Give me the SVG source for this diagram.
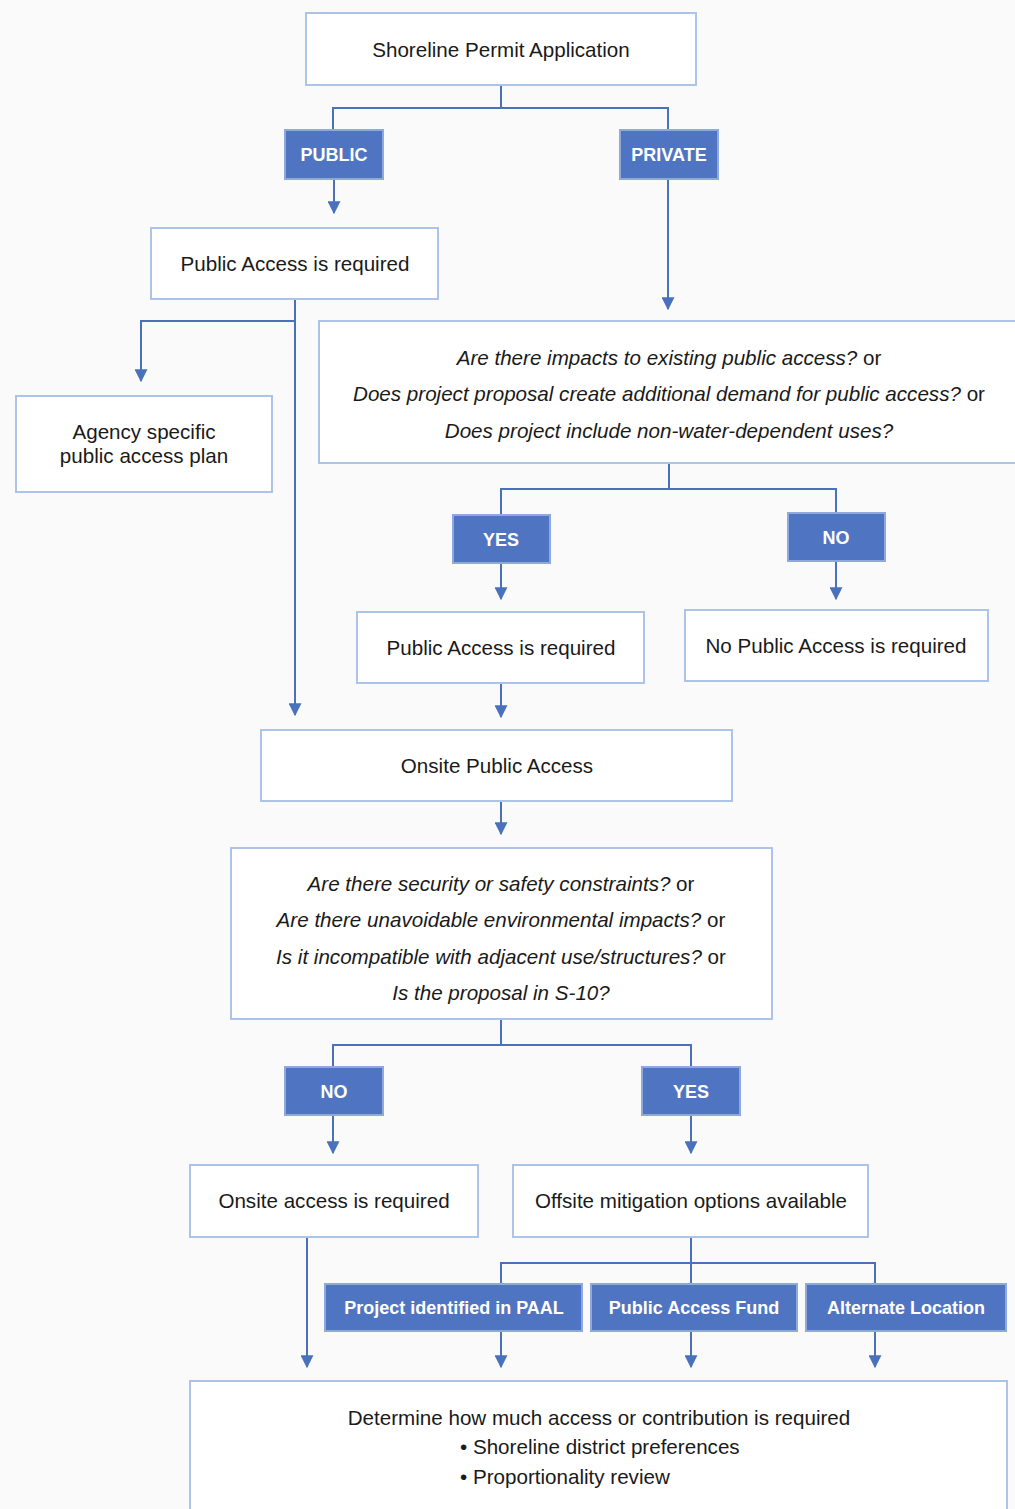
<svg xmlns="http://www.w3.org/2000/svg" width="1015" height="1509" viewBox="0 0 1015 1509">
<defs>
<marker id="ah" viewBox="0 0 10 10" refX="9" refY="5" markerWidth="13" markerHeight="13" markerUnits="userSpaceOnUse" orient="auto"><path d="M0,0 L10,5 L0,10 z" fill="#4a72bc"/></marker>
<style>
.box{fill:#ffffff;stroke:#aec3e8;stroke-width:2}
.lbl{fill:#4f75c2;stroke:#8fa9dc;stroke-width:2}
.t{font-family:"Liberation Sans",Arial,sans-serif;font-size:20.6px;fill:#1a1a1a;text-anchor:middle}
.s{text-anchor:start}
.i{font-style:italic}
.w{font-family:"Liberation Sans",Arial,sans-serif;font-size:18px;font-weight:bold;fill:#ffffff;text-anchor:middle}
.c{fill:none;stroke:#4a72bc;stroke-width:2}
</style>
</defs>
<rect width="1015" height="1509" fill="#fafafa"/>
<g id="connectors">
<path class="c" d="M501,85 V108 M333,130 V108 H668 V130"/>
<path class="c" d="M334,179 V213" marker-end="url(#ah)"/>
<path class="c" d="M668,179 V309" marker-end="url(#ah)"/>
<path class="c" d="M295,299 V715" marker-end="url(#ah)"/>
<path class="c" d="M295,321 H141 V381" marker-end="url(#ah)"/>
<path class="c" d="M669,463 V489 M501,515 V489 H836 V513"/>
<path class="c" d="M501,563 V599" marker-end="url(#ah)"/>
<path class="c" d="M836,561 V599" marker-end="url(#ah)"/>
<path class="c" d="M501,683 V717" marker-end="url(#ah)"/>
<path class="c" d="M501,801 V834" marker-end="url(#ah)"/>
<path class="c" d="M501,1019 V1045 M333,1067 V1045 H691 V1067"/>
<path class="c" d="M333,1115 V1153" marker-end="url(#ah)"/>
<path class="c" d="M691,1115 V1153" marker-end="url(#ah)"/>
<path class="c" d="M307,1237 V1367" marker-end="url(#ah)"/>
<path class="c" d="M691,1237 V1284 M501,1284 V1263 H875 V1284"/>
<path class="c" d="M501,1331 V1367" marker-end="url(#ah)"/>
<path class="c" d="M691,1331 V1367" marker-end="url(#ah)"/>
<path class="c" d="M875,1331 V1367" marker-end="url(#ah)"/>
</g>
<g id="n-app"><rect class="box" x="306" y="13" width="390" height="72"/><text class="t" x="501" y="57">Shoreline Permit Application</text></g>
<g id="n-public"><rect class="lbl" x="285" y="130" width="98" height="49"/><text class="w" x="334" y="161">PUBLIC</text></g>
<g id="n-private"><rect class="lbl" x="620" y="130" width="98" height="49"/><text class="w" x="669" y="161">PRIVATE</text></g>
<g id="n-pa1"><rect class="box" x="151" y="228" width="287" height="71"/><text class="t" x="295" y="271">Public Access is required</text></g>
<g id="n-agency"><rect class="box" x="16" y="396" width="256" height="96"/><text class="t" x="144" y="439">Agency specific</text><text class="t" x="144" y="463">public access plan</text></g>
<g id="n-q1"><rect class="box" x="319" y="321" width="705" height="142"/>
<text class="t" x="669" y="365"><tspan class="i">Are there impacts to existing public access?</tspan> or</text>
<text class="t" x="669" y="401"><tspan class="i">Does project proposal create additional demand for public access?</tspan> or</text>
<text class="t" x="669" y="438"><tspan class="i">Does project include non-water-dependent uses?</tspan></text></g>
<g id="n-yes1"><rect class="lbl" x="453" y="515" width="97" height="48"/><text class="w" x="501" y="546">YES</text></g>
<g id="n-no1"><rect class="lbl" x="788" y="513" width="97" height="48"/><text class="w" x="836" y="544">NO</text></g>
<g id="n-pa2"><rect class="box" x="357" y="612" width="287" height="71"/><text class="t" x="501" y="655">Public Access is required</text></g>
<g id="n-nopa"><rect class="box" x="685" y="610" width="303" height="71"/><text class="t" x="836" y="653">No Public Access is required</text></g>
<g id="n-onsite"><rect class="box" x="261" y="730" width="471" height="71"/><text class="t" x="497" y="773">Onsite Public Access</text></g>
<g id="n-q2"><rect class="box" x="231" y="848" width="541" height="171"/>
<text class="t" x="501" y="891"><tspan class="i">Are there security or safety constraints?</tspan> or</text>
<text class="t" x="501" y="927"><tspan class="i">Are there unavoidable environmental impacts?</tspan> or</text>
<text class="t" x="501" y="964"><tspan class="i">Is it incompatible with adjacent use/structures?</tspan> or</text>
<text class="t" x="501" y="1000"><tspan class="i">Is the proposal in S-10?</tspan></text></g>
<g id="n-no2"><rect class="lbl" x="285" y="1067" width="98" height="48"/><text class="w" x="334" y="1098">NO</text></g>
<g id="n-yes2"><rect class="lbl" x="642" y="1067" width="98" height="48"/><text class="w" x="691" y="1098">YES</text></g>
<g id="n-onreq"><rect class="box" x="190" y="1165" width="288" height="72"/><text class="t" x="334" y="1208">Onsite access is required</text></g>
<g id="n-offsite"><rect class="box" x="513" y="1165" width="355" height="72"/><text class="t" x="691" y="1208">Offsite mitigation options available</text></g>
<g id="n-paal"><rect class="lbl" x="325" y="1284" width="257" height="47"/><text class="w" x="454" y="1314">Project identified in PAAL</text></g>
<g id="n-fund"><rect class="lbl" x="591" y="1284" width="206" height="47"/><text class="w" x="694" y="1314">Public Access Fund</text></g>
<g id="n-alt"><rect class="lbl" x="806" y="1284" width="200" height="47"/><text class="w" x="906" y="1314">Alternate Location</text></g>
<g id="n-det"><rect class="box" x="190" y="1381" width="817" height="140"/>
<text class="t" x="599" y="1425">Determine how much access or contribution is required</text>
<text class="t s" x="460" y="1454">• Shoreline district preferences</text>
<text class="t s" x="460" y="1484">• Proportionality review</text></g>
</svg>
